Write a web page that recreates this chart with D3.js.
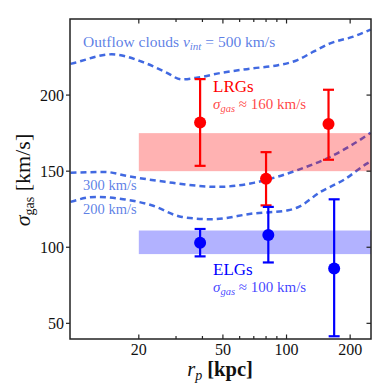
<!DOCTYPE html>
<html>
<head>
<meta charset="utf-8">
<script src="https://cdn.jsdelivr.net/npm/d3@7.9.0/dist/d3.min.js"></script>
<style>
  body { margin: 0; background: #fff; }
  svg { display: block; }
</style>
</head>
<body>
<svg id="chart" width="390" height="390"></svg>
<script>
// ---- data ----
const lrgR = [39, 80, 158];
const lrgSigma = [182, 145, 181];
const lrgLo = [153.5, 127.5, 157.5];
const lrgHi = [210.5, 162.5, 203.5];

const elgR = [39, 82, 168];
const elgSigma = [103, 108, 86];
const elgLo = [94, 90, 41.5];
const elgHi = [112, 126.5, 131.5];

const lrgBand = [150, 175];
const elgBand = [95.5, 111];
const bandStart = 20;

const out500R = [9.5, 10, 14.9, 20.7, 26.6, 32, 38.3, 49.5, 69.8, 90, 112.6, 134, 161, 207, 250];
const out500S = [220.5, 221.3, 226.8, 221.9, 215.3, 210.3, 211.6, 214.7, 217.6, 219.5, 223, 228.5, 234, 238.4, 243];
const out300R = [9.5, 13.8, 17.8, 26.6, 47.4, 69.8, 90.3, 112.6, 161, 241, 250];
const out300S = [148.9, 149.5, 146.7, 143, 139.7, 142.3, 146.3, 150.7, 159.4, 173.7, 175.2];
const out200R = [9.5, 12.5, 17.2, 23, 32, 44.3, 69.8, 101.8, 112.6, 145, 187.6, 241, 250];
const out200S = [129.8, 133.1, 131.4, 127.6, 119.9, 118.4, 122.2, 124.3, 126.1, 136.4, 144.5, 155.1, 156.4];

const xTicks = [20, 50, 100, 200];
const xMinor = [30, 40, 60, 70, 80, 90];
const yTicks = [50, 100, 150, 200];

// ---- scales ----
const svg = d3.select('#chart');
const mLeft = 70, mRight = 371, mTop = 19, mBottom = 339;
const x = d3.scaleLog().domain([9.45, 251]).range([mLeft, mRight]);
const y = d3.scaleLinear().domain([39.7, 250]).range([mBottom, mTop]);

const plot = svg.append('g');
svg.append('clipPath').attr('id', 'clip')
  .append('rect').attr('x', mLeft).attr('y', mTop).attr('width', mRight - mLeft).attr('height', mBottom - mTop);

// dashed outflow curves
const line = d3.line().x(d => x(d[0])).y(d => y(d[1])).curve(d3.curveMonotoneX);
[[out500R, out500S], [out300R, out300S], [out200R, out200S]].forEach(([rs, ss]) => {
  plot.append('path')
    .attr('clip-path', 'url(#clip)')
    .attr('d', line(rs.map((r, i) => [r, ss[i]])))
    .attr('fill', 'none')
    .attr('stroke', '#4169e1')
    .attr('stroke-width', 2.5)
    .attr('stroke-dasharray', '6,4');
});

// shaded bands
plot.append('rect')
  .attr('x', x(bandStart)).attr('width', mRight - x(bandStart))
  .attr('y', y(lrgBand[1])).attr('height', y(lrgBand[0]) - y(lrgBand[1]))
  .attr('fill', 'red').attr('fill-opacity', 0.3);
plot.append('rect')
  .attr('x', x(bandStart)).attr('width', mRight - x(bandStart))
  .attr('y', y(elgBand[1])).attr('height', y(elgBand[0]) - y(elgBand[1]))
  .attr('fill', 'blue').attr('fill-opacity', 0.3);

// error bars
function errorbars(rs, ss, lo, hi, color) {
  rs.forEach((r, i) => {
    const cx = x(r);
    const g = plot.append('g').attr('stroke', color).attr('stroke-width', 2.2);
    g.append('line').attr('x1', cx).attr('x2', cx).attr('y1', y(lo[i])).attr('y2', y(hi[i]));
    g.append('line').attr('x1', cx - 5.5).attr('x2', cx + 5.5).attr('y1', y(lo[i])).attr('y2', y(lo[i]));
    g.append('line').attr('x1', cx - 5.5).attr('x2', cx + 5.5).attr('y1', y(hi[i])).attr('y2', y(hi[i]));
    plot.append('circle').attr('cx', cx).attr('cy', y(ss[i])).attr('r', 6).attr('fill', color);
  });
}
errorbars(lrgR, lrgSigma, lrgLo, lrgHi, 'red');
errorbars(elgR, elgSigma, elgLo, elgHi, 'blue');

// frame and ticks
const axes = svg.append('g').attr('stroke', '#222').attr('stroke-width', 1.2);
axes.append('rect').attr('x', mLeft).attr('y', mTop).attr('width', mRight - mLeft).attr('height', mBottom - mTop)
  .attr('fill', 'none').attr('stroke-width', 1.5);
xTicks.forEach(t => {
  axes.append('line').attr('x1', x(t)).attr('x2', x(t)).attr('y1', mBottom).attr('y2', mBottom - 4.5);
  axes.append('line').attr('x1', x(t)).attr('x2', x(t)).attr('y1', mTop).attr('y2', mTop + 4.5);
});
xMinor.forEach(t => {
  axes.append('line').attr('x1', x(t)).attr('x2', x(t)).attr('y1', mBottom).attr('y2', mBottom - 3);
  axes.append('line').attr('x1', x(t)).attr('x2', x(t)).attr('y1', mTop).attr('y2', mTop + 3);
});
yTicks.forEach(t => {
  axes.append('line').attr('x1', mLeft - 4).attr('x2', mLeft).attr('y1', y(t)).attr('y2', y(t));
  axes.append('line').attr('x1', mRight).attr('x2', mRight - 4.5).attr('y1', y(t)).attr('y2', y(t));
});

svg.append('g').selectAll('text').data(xTicks).join('text')
  .attr('x', d => x(d)).attr('y', 355).attr('text-anchor', 'middle')
  .attr('font-size', 16).attr('fill', '#111').text(d => d);
svg.append('g').selectAll('text').data(yTicks).join('text')
  .attr('x', 64).attr('y', d => y(d) + 5.5).attr('text-anchor', 'end')
  .attr('font-size', 16).attr('fill', '#111').text(d => d);

// axis labels
const xl = svg.append('text').attr('x', 220).attr('y', 376).attr('text-anchor', 'middle')
  .attr('font-size', 20.5).attr('fill', '#111');
xl.append('tspan').attr('font-style', 'italic').text('r');
xl.append('tspan').attr('font-style', 'italic').attr('font-size', 14).attr('dy', 4).text('p');
xl.append('tspan').attr('dy', -4).attr('font-weight', 'bold').text(' [kpc]');

const yl = svg.append('text').attr('transform', 'translate(30,180) rotate(-90)')
  .attr('text-anchor', 'middle').attr('font-size', 22).attr('fill', '#111');
yl.append('tspan').attr('font-style', 'italic').text('σ');
yl.append('tspan').attr('font-size', 14).attr('dy', 4).text('gas');
yl.append('tspan').attr('dy', -4).text(' [km/s]');

// annotations
const t1 = svg.append('text').attr('x', 83).attr('y', 47).attr('font-size', 15.5)
  .attr('fill', '#4169e1').attr('fill-opacity', 0.85);
t1.append('tspan').text('Outflow clouds ');
t1.append('tspan').attr('font-style', 'italic').text('v');
t1.append('tspan').attr('font-style', 'italic').attr('font-size', 11).attr('dy', 3).text('int');
t1.append('tspan').attr('dy', -3).text(' = 500 km/s');

svg.append('text').attr('x', 83).attr('y', 190).attr('font-size', 14.5)
  .attr('fill', '#4169e1').attr('fill-opacity', 0.85).text('300 km/s');
svg.append('text').attr('x', 83).attr('y', 214).attr('font-size', 14.5)
  .attr('fill', '#4169e1').attr('fill-opacity', 0.85).text('200 km/s');

function label(xp, yp, name, val, color) {
  svg.append('text').attr('x', xp).attr('y', yp).attr('font-size', 17).attr('fill', color).text(name);
  const t = svg.append('text').attr('x', xp).attr('y', yp + 17).attr('font-size', 15)
    .attr('fill', color).attr('fill-opacity', 0.75);
  t.append('tspan').attr('font-style', 'italic').text('σ');
  t.append('tspan').attr('font-style', 'italic').attr('font-size', 10.5).attr('dy', 3).text('gas');
  t.append('tspan').attr('dy', -3).text(' ≈ ' + val + ' km/s');
}
label(213, 92, 'LRGs', 160, 'red');
label(213, 275, 'ELGs', 100, 'blue');

// serif font on every text piece
svg.selectAll('text, tspan').style('font-family', '"Liberation Serif"');
</script>
</body>
</html>
